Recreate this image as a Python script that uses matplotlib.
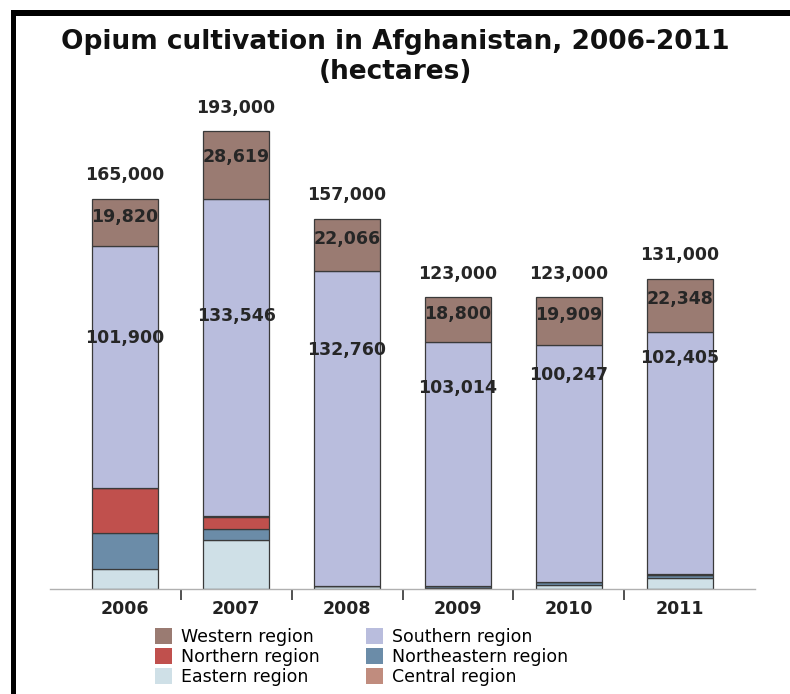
import matplotlib.pyplot as plt
from matplotlib.patches import Rectangle

# data (hectares)
years = ['2006', '2007', '2008', '2009', '2010', '2011']
totals = [165000, 193000, 157000, 123000, 123000, 131000]
western = [19820, 28619, 22066, 18800, 19909, 22348]
southern = [101900, 133546, 132760, 103014, 100247, 102405]
northern = [19300, 4900, 0, 0, 0, 0]
northeastern = [15000, 4900, 200, 560, 1100, 1400]
eastern = [8500, 20600, 1150, 600, 1800, 4600]
central = [0, 500, 0, 130, 0, 200]

# where the southern label sits inside its segment (fraction from bottom)
south_label_pos = [0.62, 0.63, 0.75, 0.81, 0.87, 0.89]

colors = {
    'Western region': '#9a7b72',
    'Southern region': '#b9bddd',
    'Northern region': '#c0504d',
    'Northeastern region': '#6b8ca8',
    'Eastern region': '#cfe0e7',
    'Central region': '#c08c7e',
}

fig = plt.figure(figsize=(7.9, 6.94), dpi=100)
ax = fig.add_axes([0.0633, 0.1513, 0.8924, 0.683])

x = list(range(len(years)))
bottom = [0] * len(years)
stack = [('Eastern region', eastern), ('Northeastern region', northeastern),
         ('Northern region', northern), ('Central region', central),
         ('Southern region', southern), ('Western region', western)]
seg_bottom = {}
for name, vals in stack:
    seg_bottom[name] = list(bottom)
    ax.bar(x, vals, width=0.6, bottom=bottom, color=colors[name],
           edgecolor='#3a3a3a', linewidth=0.9)
    bottom = [b + v for b, v in zip(bottom, vals)]

txt = dict(ha='center', va='center', fontsize=12.5, fontweight='bold', color='#262626')
for i in x:
    ax.annotate(f'{totals[i]:,}', (i, bottom[i]), xytext=(0, 17),
                textcoords='offset points', **txt)
    yw = seg_bottom['Western region'][i] + western[i] * 0.62
    ax.text(i, yw, f'{western[i]:,}', **txt)
    ys = seg_bottom['Southern region'][i] + southern[i] * south_label_pos[i]
    ax.text(i, ys, f'{southern[i]:,}', **txt)

ax.set_xlim(-0.676, 5.676)
ax.set_ylim(0, 200000)
for s in ['top', 'right', 'left']:
    ax.spines[s].set_visible(False)
ax.spines['bottom'].set_color('#b0b0b0')
ax.spines['bottom'].set_linewidth(1.0)
ax.set_yticks([])
ax.set_xticks(x)
ax.set_xticklabels(years, fontsize=12.5, fontweight='bold', color='#222222')
ax.tick_params(axis='x', which='major', length=0, pad=8)
ax.set_xticks([i + 0.5 for i in x[:-1]], minor=True)
ax.tick_params(axis='x', which='minor', length=8, width=1.2, color='#333333')

fig.text(0.5, 0.94, 'Opium cultivation in Afghanistan, 2006-2011',
         ha='center', va='center', fontsize=19, fontweight='bold', color='#111111')
fig.text(0.5, 0.896, '(hectares)', ha='center', va='center',
         fontsize=19, fontweight='bold', color='#111111')

order = ['Western region', 'Northern region', 'Eastern region',
         'Southern region', 'Northeastern region', 'Central region']
handles = [Rectangle((0, 0), 1, 1, facecolor=colors[n], edgecolor='none') for n in order]
fig.legend(handles, order, loc='upper left', bbox_to_anchor=(155 / 790, 1 - 628 / 694),
           ncol=2, frameon=False, borderpad=0, borderaxespad=0,
           prop={'size': 12.5}, handlelength=1.0, handleheight=1.0,
           columnspacing=2.65, labelspacing=0.12, handletextpad=0.5)

# black frame strips of the screenshot
fig.add_artist(Rectangle((11 / 790, 0), 5 / 790, 1 - 10 / 694, transform=fig.transFigure,
                         facecolor='black', edgecolor='none'))
fig.add_artist(Rectangle((11 / 790, 1 - 16 / 694), 1, 6 / 694, transform=fig.transFigure,
                         facecolor='black', edgecolor='none'))

fig.savefig('out.png', dpi=100)
